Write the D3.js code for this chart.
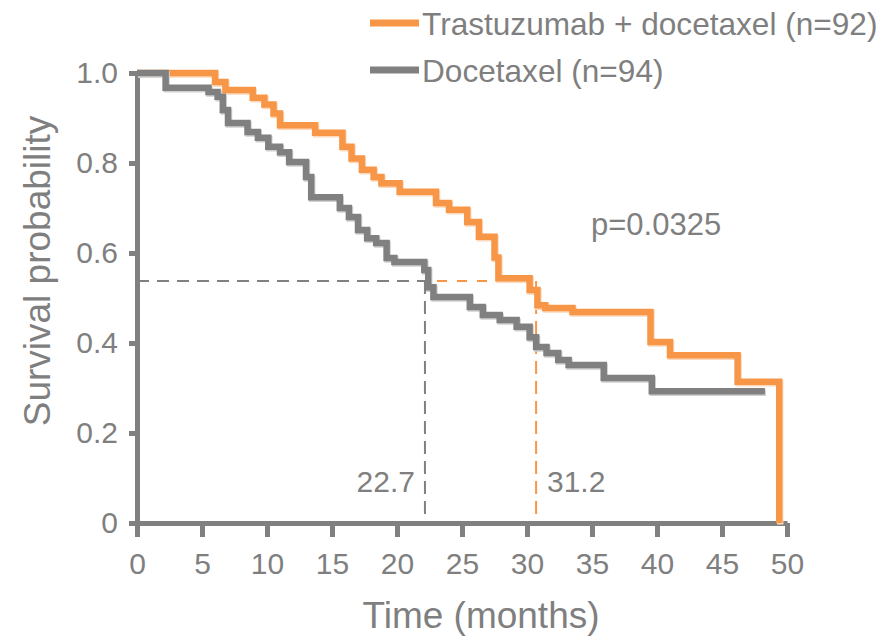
<!DOCTYPE html>
<html>
<head>
<meta charset="utf-8">
<script src="https://cdn.jsdelivr.net/npm/d3@7"></script>
<style>
  body { margin: 0; background: #fff; }
  text { font-family: "Liberation Sans", Arial, sans-serif; fill: #7f7f7f; }
</style>
</head>
<body>
<svg id="chart" width="895" height="638"></svg>
<script>
// Kaplan-Meier steps (time of drop, survival after drop)
const tdTimes = [0, 6.0, 6.8, 8.9, 9.8, 10.5, 11.0, 13.7, 15.8, 16.5, 17.3, 18.2, 18.8, 20.2, 23.0, 24.0, 25.4, 26.3, 27.5, 27.8, 30.2, 30.8, 31.4, 33.5, 39.5, 41.0, 46.2, 49.4];
const tdSurv  = [1.0, 0.98, 0.962, 0.945, 0.93, 0.91, 0.884, 0.867, 0.836, 0.81, 0.785, 0.769, 0.755, 0.736, 0.711, 0.696, 0.669, 0.636, 0.59, 0.544, 0.518, 0.484, 0.478, 0.469, 0.402, 0.373, 0.314, 0];

const dTimes = [0, 2.2, 5.5, 6.2, 6.6, 7.0, 8.5, 9.3, 10.1, 11.0, 11.7, 13.0, 13.4, 15.6, 16.3, 17.0, 17.7, 18.4, 19.2, 19.8, 22.1, 22.4, 22.8, 25.6, 26.6, 27.9, 29.2, 30.2, 30.7, 31.5, 32.4, 33.2, 35.9, 39.6, 48.3];
const dSurv  = [1.0, 0.967, 0.958, 0.947, 0.918, 0.889, 0.869, 0.856, 0.836, 0.824, 0.802, 0.769, 0.724, 0.70, 0.68, 0.651, 0.633, 0.622, 0.589, 0.58, 0.562, 0.524, 0.502, 0.48, 0.462, 0.451, 0.436, 0.413, 0.391, 0.378, 0.362, 0.351, 0.322, 0.293, 0.293];

const seriesNames = ["Trastuzumab + docetaxel (n=92)", "Docetaxel (n=94)"];
const seriesColors = ["#f79646", "#808080"];

const medianLevel = 0.538;
const medianTimes = [30.7, 22.15];
const medianLabels = ["31.2", "22.7"];

const xTicks = [0, 5, 10, 15, 20, 25, 30, 35, 40, 45, 50];
const yTicks = [0, 0.2, 0.4, 0.6, 0.8, 1.0];
const yTickLabels = ["0", "0.2", "0.4", "0.6", "0.8", "1.0"];
const pText = "p=0.0325";

const svg = d3.select("#chart");
const axisColor = "#808080";

const x = d3.scaleLinear().domain([0, 50]).range([137, 787]);
const y = d3.scaleLinear().domain([0, 1]).range([523, 73]);

// median dashed guides
const medG = svg.append("g");
medianTimes.forEach((t, i) => {
    const c = seriesColors[i];
    medG.append("line")
        .attr("x1", x(0)).attr("x2", x(t))
        .attr("y1", y(medianLevel)).attr("y2", y(medianLevel))
        .attr("stroke", c).attr("stroke-width", 2)
        .attr("stroke-dasharray", i === 0 ? "10,10" : "12,8");
    medG.append("line")
        .attr("x1", x(t)).attr("x2", x(t))
        .attr("y1", y(medianLevel)).attr("y2", y(0))
        .attr("stroke", c).attr("stroke-width", 2)
        .attr("stroke-dasharray", "13,7");
});

// median labels
svg.append("text").attr("x", 415).attr("y", 492)
    .attr("text-anchor", "end").style("font-size", "30px").text(medianLabels[1]);
svg.append("text").attr("x", 547).attr("y", 492)
    .attr("text-anchor", "start").style("font-size", "30px").text(medianLabels[0]);

// axes
const xAxis = svg.append("g")
    .attr("transform", `translate(0,${y(0)})`)
    .call(d3.axisBottom(x).tickValues(xTicks).tickSize(14).tickSizeOuter(0).tickPadding(16));

const yAxis = svg.append("g")
    .attr("transform", `translate(${x(0)},0)`)
    .call(d3.axisLeft(y).tickValues(yTicks).tickSize(8).tickSizeOuter(0).tickPadding(11)
        .tickFormat((d, i) => yTickLabels[i]));

[xAxis, yAxis].forEach(a => {
    a.select(".domain").attr("stroke", axisColor).attr("stroke-width", 5);
    a.selectAll(".tick line").attr("stroke", axisColor).attr("stroke-width", 5);
    a.selectAll(".tick text")
        .attr("fill", "#7f7f7f")
        .style("font-size", "30px")
        .style("font-family", "'Liberation Sans', Arial, sans-serif");
});

// survival curves
const line = d3.line()
    .x(d => x(d[0]))
    .y(d => y(d[1]))
    .curve(d3.curveStepAfter);

const tdData = tdTimes.map((t, i) => [t, tdSurv[i]]);
const dData = dTimes.map((t, i) => [t, dSurv[i]]);
const curves = [tdData, dData];
const shadows = ["#fcd9bc", "#d0d0d0"];

curves.forEach((data, i) => {
    svg.append("path")
        .datum(data)
        .attr("d", line)
        .attr("fill", "none")
        .attr("stroke", shadows[i])
        .attr("stroke-width", 6.5)
        .attr("transform", "translate(1,1.5)");
    svg.append("path")
        .datum(data)
        .attr("d", line)
        .attr("fill", "none")
        .attr("stroke", seriesColors[i])
        .attr("stroke-width", 6.5);
});

// p value
svg.append("text").attr("x", 591).attr("y", 235)
    .style("font-size", "31px").text(pText);

// axis titles
svg.append("text")
    .attr("x", 481)
    .attr("y", 628)
    .attr("text-anchor", "middle")
    .style("font-size", "37px")
    .text("Time (months)");

svg.append("text")
    .attr("transform", "translate(50,271) rotate(-90)")
    .attr("text-anchor", "middle")
    .style("font-size", "37px")
    .text("Survival probability");

// legend
const legend = svg.append("g");
[23, 70].forEach((ly, i) => {
    legend.append("line")
        .attr("x1", 370).attr("x2", 419)
        .attr("y1", ly).attr("y2", ly)
        .attr("stroke", seriesColors[i]).attr("stroke-width", 7);
    legend.append("text")
        .attr("x", 422).attr("y", ly + 12)
        .style("font-size", "31.6px")
        .text(seriesNames[i]);
});
</script>
</body>
</html>
